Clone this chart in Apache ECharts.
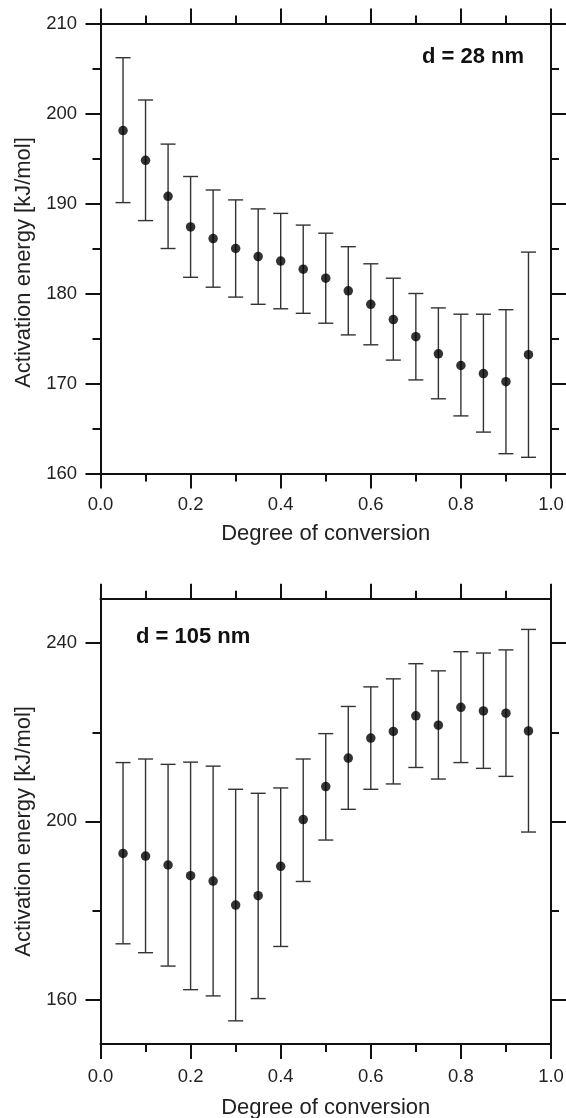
<!DOCTYPE html>
<html>
<head>
<meta charset="utf-8">
<script src="https://cdn.jsdelivr.net/npm/echarts@6/dist/echarts.min.js"></script>
<style>
  html, body { margin: 0; padding: 0; background: #fff; }
  #main { width: 566px; height: 1118px; }
</style>
</head>
<body>
<div id="main"></div>
<script>
// degree of conversion
const conversion = [0.05, 0.10, 0.15, 0.20, 0.25, 0.30, 0.35, 0.40, 0.45, 0.50,
  0.55, 0.60, 0.65, 0.70, 0.75, 0.80, 0.85, 0.90, 0.95]

// d = 28 nm
const ea28 = [198.1, 194.8, 190.8, 187.4, 186.1, 185.0, 184.1, 183.6, 182.7, 181.7,
  180.3, 178.8, 177.1, 175.2, 173.3, 172.0, 171.1, 170.2, 173.2]
const ea28High = [206.2, 201.5, 196.6, 193.0, 191.5, 190.4, 189.4, 188.9, 187.6, 186.7,
  185.2, 183.3, 181.7, 180.0, 178.4, 177.7, 177.7, 178.2, 184.6]
const ea28Low = [190.1, 188.1, 185.0, 181.8, 180.7, 179.6, 178.8, 178.3, 177.8, 176.7,
  175.4, 174.3, 172.6, 170.4, 168.3, 166.4, 164.6, 162.2, 161.8]

// d = 105 nm
const ea105 = [192.8, 192.2, 190.2, 187.8, 186.6, 181.2, 183.3, 189.9, 200.4, 207.8,
  214.2, 218.7, 220.2, 223.7, 221.6, 225.6, 224.8, 224.3, 220.3]
const ea105High = [213.2, 214.0, 212.8, 213.3, 212.4, 207.2, 206.3, 207.5, 214.0, 219.7,
  225.8, 230.2, 232.0, 235.4, 233.8, 238.1, 237.8, 238.5, 243.1]
const ea105Low = [172.5, 170.5, 167.5, 162.2, 160.8, 155.2, 160.2, 171.9, 186.5, 195.8,
  202.7, 207.2, 208.4, 212.1, 209.5, 213.2, 211.9, 210.1, 197.6]

// tick labels of the lower panel
const ticks105 = [160, 200, 240]
const minorTicks105 = [180, 220]

const FONT = 'Liberation Sans, Arial, sans-serif'
const INK = '#111'

const chart = echarts.init(document.getElementById('main'))

function errorBars (params, api) {
  const x = api.value(0)
  const top = api.coord([x, api.value(2)])
  const bot = api.coord([x, api.value(1)])
  const w = 7.5
  const style = { stroke: '#333', lineWidth: 1.4 }
  return {
    type: 'group',
    children: [
      { type: 'line', shape: { x1: top[0], y1: top[1], x2: bot[0], y2: bot[1] }, style },
      { type: 'line', shape: { x1: top[0] - w, y1: top[1], x2: top[0] + w, y2: top[1] }, style },
      { type: 'line', shape: { x1: bot[0] - w, y1: bot[1], x2: bot[0] + w, y2: bot[1] }, style }
    ]
  }
}

const lineStyle = { color: INK, width: 2 }
const labelStyle = { color: '#222', fontSize: 18.5, fontFamily: FONT }

function xAxisFor (grid, pos, withLabel, nameGap, labelMargin) {
  return {
    type: 'value',
    gridIndex: grid,
    position: pos,
    min: 0,
    max: 1,
    interval: 0.2,
    name: withLabel ? 'Degree of conversion' : '',
    nameLocation: 'middle',
    nameGap: nameGap,
    nameTextStyle: { color: '#222', fontSize: 22, fontFamily: FONT },
    axisLine: { show: true, onZero: false, lineStyle },
    axisTick: { show: true, inside: false, length: 15, lineStyle },
    minorTick: { show: true, splitNumber: 2, length: 8, lineStyle },
    axisLabel: {
      show: withLabel,
      margin: labelMargin,
      formatter: v => v.toFixed(1),
      ...labelStyle
    },
    splitLine: { show: false },
    minorSplitLine: { show: false }
  }
}

chart.setOption({
  animation: false,
  backgroundColor: '#fff',
  grid: [
    { left: 100.5, right: 15, top: 23.5, height: 450, outerBoundsMode: 'none' },
    { left: 100.5, right: 15, top: 598.7, height: 445.3, outerBoundsMode: 'none' }
  ],
  xAxis: [
    xAxisFor(0, 'bottom', true, 49, 22),
    xAxisFor(0, 'top', false, 0, 0),
    xAxisFor(1, 'bottom', true, 53, 23),
    xAxisFor(1, 'top', false, 0, 0)
  ],
  yAxis: [
    {
      type: 'value',
      gridIndex: 0,
      position: 'left',
      min: 160,
      max: 210,
      interval: 10,
      name: 'Activation energy [kJ/mol]',
      nameLocation: 'middle',
      nameGap: 65,
      nameTextStyle: { color: '#222', fontSize: 22, fontFamily: FONT, padding: [0, 28, 0, 0] },
      axisLine: { show: true, onZero: false, lineStyle },
      axisTick: { show: true, length: 15, lineStyle },
      minorTick: { show: true, splitNumber: 2, length: 8, lineStyle },
      axisLabel: { margin: 23.5, ...labelStyle },
      splitLine: { show: false }
    },
    {
      type: 'value',
      gridIndex: 0,
      position: 'right',
      min: 160,
      max: 210,
      interval: 10,
      axisLine: { show: true, onZero: false, lineStyle },
      axisTick: { show: true, length: 15, lineStyle },
      minorTick: { show: true, splitNumber: 2, length: 8, lineStyle },
      axisLabel: { show: false },
      splitLine: { show: false }
    },
    {
      type: 'value',
      gridIndex: 1,
      position: 'left',
      min: 150,
      max: 250,
      name: 'Activation energy [kJ/mol]',
      nameLocation: 'middle',
      nameGap: 65,
      nameTextStyle: { color: '#222', fontSize: 22, fontFamily: FONT, padding: [0, 20, 0, 0] },
      axisLine: { show: true, onZero: false, lineStyle },
      axisTick: { show: true, length: 15, lineStyle, customValues: ticks105 },
      axisLabel: { margin: 23.5, customValues: ticks105, ...labelStyle },
      splitLine: { show: false }
    },
    {
      type: 'value',
      gridIndex: 1,
      position: 'left',
      offset: 0,
      min: 150,
      max: 250,
      axisLine: { show: false, onZero: false },
      axisTick: { show: true, length: 8, lineStyle, customValues: minorTicks105 },
      axisLabel: { show: false },
      splitLine: { show: false }
    },
    {
      type: 'value',
      gridIndex: 1,
      position: 'right',
      min: 150,
      max: 250,
      axisLine: { show: true, onZero: false, lineStyle },
      axisTick: { show: true, length: 15, lineStyle, customValues: ticks105 },
      axisLabel: { show: false },
      splitLine: { show: false }
    },
    {
      type: 'value',
      gridIndex: 1,
      position: 'right',
      offset: 0,
      min: 150,
      max: 250,
      axisLine: { show: false, onZero: false },
      axisTick: { show: true, length: 8, lineStyle, customValues: minorTicks105 },
      axisLabel: { show: false },
      splitLine: { show: false }
    }
  ],
  graphic: [
    {
      type: 'text',
      x: 524,
      y: 56.5,
      style: { text: 'd = 28 nm', font: 'bold 22px ' + FONT, fill: INK, textAlign: 'right', textVerticalAlign: 'middle' }
    },
    {
      type: 'text',
      x: 136,
      y: 636.7,
      style: { text: 'd = 105 nm', font: 'bold 22px ' + FONT, fill: INK, textAlign: 'left', textVerticalAlign: 'middle' }
    }
  ],
  series: [
    {
      type: 'custom',
      xAxisIndex: 0,
      yAxisIndex: 0,
      renderItem: errorBars,
      encode: { x: 0, y: [1, 2] },
      data: conversion.map((x, i) => [x, ea28Low[i], ea28High[i]]),
      z: 2
    },
    {
      type: 'scatter',
      xAxisIndex: 0,
      yAxisIndex: 0,
      symbol: 'circle',
      symbolSize: 9.5,
      itemStyle: { color: '#000' },
      data: conversion.map((x, i) => [x, ea28[i]]),
      z: 3
    },
    {
      type: 'custom',
      xAxisIndex: 2,
      yAxisIndex: 2,
      renderItem: errorBars,
      encode: { x: 0, y: [1, 2] },
      data: conversion.map((x, i) => [x, ea105Low[i], ea105High[i]]),
      z: 2
    },
    {
      type: 'scatter',
      xAxisIndex: 2,
      yAxisIndex: 2,
      symbol: 'circle',
      symbolSize: 9.5,
      itemStyle: { color: '#000' },
      data: conversion.map((x, i) => [x, ea105[i]]),
      z: 3
    }
  ]
})
</script>
</body>
</html>
